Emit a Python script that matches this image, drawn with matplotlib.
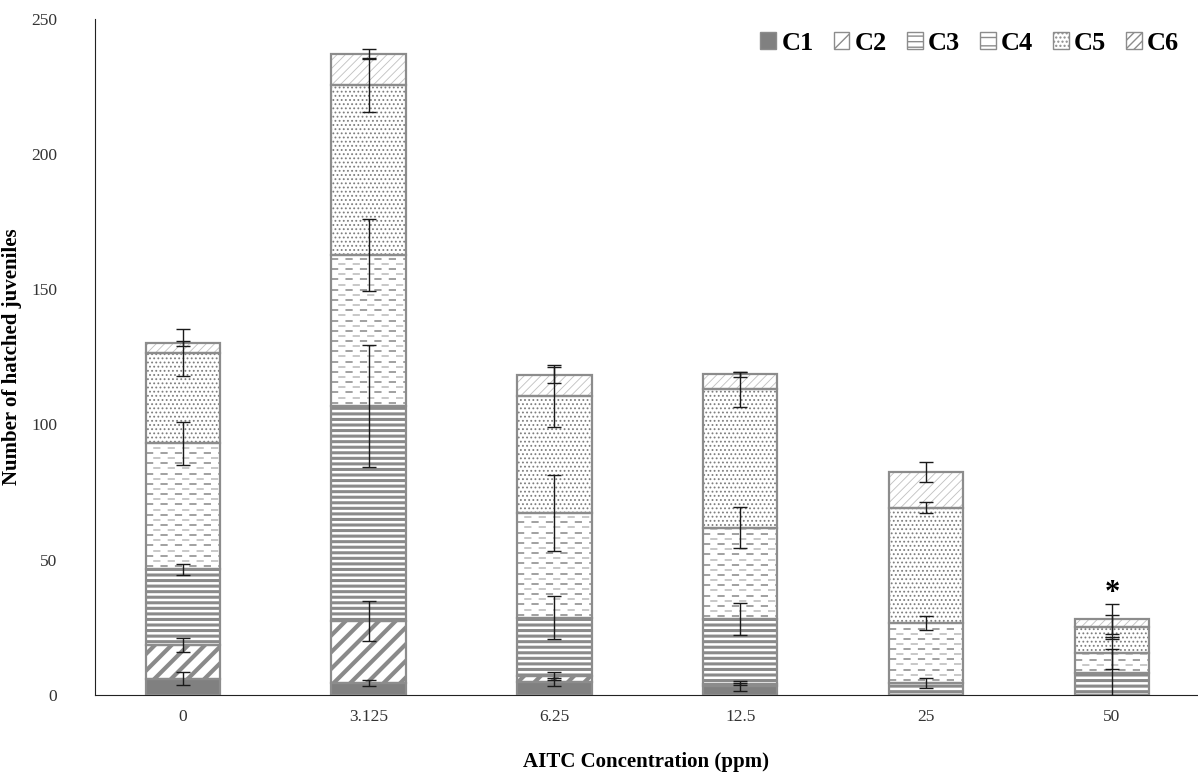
import numpy as np
import matplotlib
matplotlib.use("Agg")
import matplotlib.pyplot as plt
import matplotlib.patches as mpatches

plt.rcParams["font.family"] = ["Liberation Serif", "DejaVu Serif"]

concentrations = ["0", "3.125", "6.25", "12.5", "25", "50"]
stages = ["C1", "C2", "C3", "C4", "C5", "C6"]

# mean hatched juveniles per stage at each concentration
c1 = [6.0, 4.4, 4.8, 3.3, 0.0, 0.0]
c2 = [12.5, 23.0, 2.2, 0.7, 0.0, 0.0]
c3 = [28.0, 79.5, 21.5, 24.0, 4.4, 8.1]
c4 = [46.5, 55.8, 38.8, 33.8, 22.2, 7.4]
c5 = [33.5, 62.9, 43.3, 51.2, 42.6, 9.7]
c6 = [3.5, 11.4, 7.7, 5.5, 13.3, 2.8]

# standard errors
c1_err = [2.5, 1.0, 1.5, 1.8, 0.0, 0.0]
c2_err = [2.5, 7.4, 1.5, 0.5, 0.0, 0.0]
c3_err = [2.0, 22.5, 8.0, 6.0, 2.0, 9.0]
c4_err = [8.0, 13.3, 14.0, 7.5, 2.7, 6.0]
c5_err = [8.7, 10.0, 11.5, 6.5, 2.0, 4.5]
c6_err = [1.0, 2.0, 3.0, 1.0, 3.7, 5.5]

significant = [False, False, False, False, False, True]

values = [c1, c2, c3, c4, c5, c6]
errors = [c1_err, c2_err, c3_err, c4_err, c5_err, c6_err]

# fill, hatch, hatch colour, hatch line width (C4 gets dashed rows instead)
styles = [
    ("#808080", "", "#808080", 1.0),
    ("white", "//", "#8a8a8a", 3.0),
    ("white", "---", "#8a8a8a", 2.2),
    ("white", "", "#a8a8a8", 1.0),
    ("white", "....", "#7e7e7e", 0.8),
    ("white", "////", "#c0c0c0", 0.6),
]


def dashed_fill(ax, bars, step=1.9):
    """Rows of staggered dashes clipped to each bar."""
    for b in bars:
        y0, h = b.get_y(), b.get_height()
        if h <= 0:
            continue
        x0, x1 = b.get_x(), b.get_x() + b.get_width()
        ys = np.arange(y0 + step * 0.6, y0 + h, step)
        for k, y in enumerate(ys):
            off = 0 if k % 2 == 0 else 4
            col = "#9a9a9a" if k % 2 == 0 else "#c4c4c4"
            ln, = ax.plot([x0, x1], [y, y], color=col, lw=1.3,
                          linestyle=(off, (4, 4)), zorder=2.5,
                          solid_capstyle="butt", dash_capstyle="butt")
            ln.set_clip_path(b)


fig = plt.figure(figsize=(11.98, 7.79), dpi=100)
ax = fig.add_axes([0.079, 0.108, 0.921, 0.8678])

x = np.arange(len(concentrations))
width = 0.4
bottom = np.zeros(len(x))
handles = []

for i, (name, vals, errs, (fc, hatch, hc, hlw)) in enumerate(
        zip(stages, values, errors, styles)):
    vals = np.array(vals)
    plt.rcParams["hatch.linewidth"] = hlw
    bars = ax.bar(x, vals, width, bottom=bottom, color=fc, edgecolor=hc,
                  hatch=hatch, linewidth=0, zorder=2)
    for b in bars:
        try:
            b.set_hatch_linewidth(hlw)
        except AttributeError:
            pass
    if name == "C4":
        dashed_fill(ax, bars)
    ax.bar(x, vals, width, bottom=bottom, fill=False, edgecolor="#8c8c8c",
           linewidth=1.6, zorder=3)
    top = bottom + vals
    mask = (vals > 0) & (np.array(errs) > 0)
    ax.errorbar(x[mask], top[mask], yerr=np.array(errs)[mask], fmt="none",
                ecolor="#1a1a1a", elinewidth=1.0, capsize=5, capthick=1.0,
                zorder=4)
    bottom = top
    leg_hatch = "--" if name == "C4" else hatch
    h = mpatches.Patch(facecolor=fc, edgecolor="#8c8c8c", hatch=leg_hatch,
                       label=name)
    handles.append(h)

plt.rcParams["hatch.linewidth"] = 1.0

for i, star in enumerate(significant):
    if star:
        ax.text(x[i], bottom[i] + 9.5, "*", ha="center", va="center",
                fontsize=22, fontweight="bold")

ax.set_xlim(-0.474, 5.463)
ax.set_ylim(0, 250)
ax.set_yticks(np.arange(0, 251, 50))
ax.set_xticks(x)
ax.set_xticklabels(concentrations)
ax.tick_params(length=0, labelsize=12.5, colors="#333333")
ax.tick_params(axis="x", pad=10)
ax.tick_params(axis="y", pad=27)

for side in ["top", "right"]:
    ax.spines[side].set_visible(False)
ax.spines["left"].set_color("#222222")
ax.spines["bottom"].set_color("#222222")

ax.set_xlabel("AITC Concentration (ppm)", fontsize=15, fontweight="bold")
ax.set_ylabel("Number of hatched juveniles", fontsize=15, fontweight="bold")
ax.xaxis.set_label_coords(0.5, -0.084)
ax.yaxis.set_label_coords(-0.066, 0.5)

ax.legend(handles=handles, ncol=6, loc="upper right", frameon=False,
          bbox_to_anchor=(0.995, 1.0), prop={"size": 19, "weight": "bold"},
          handlelength=0.6, handleheight=0.6, handletextpad=0.2,
          columnspacing=0.75, borderaxespad=0.1)

fig.savefig("out.png", dpi=100)
